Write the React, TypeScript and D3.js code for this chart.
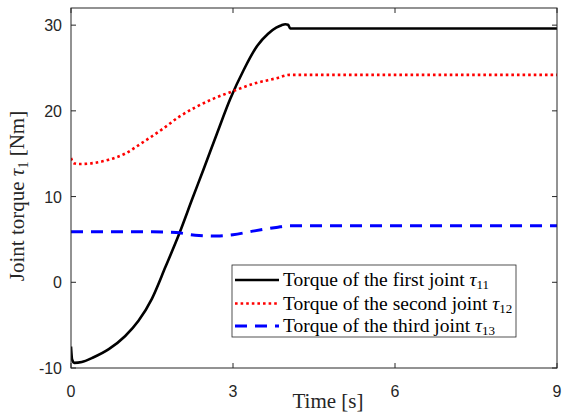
import React from "react";
import * as d3 from "d3";

const W = 562;
const H = 418;

const tBlack = [0, 0.02, 0.06, 0.2, 0.4, 0.7, 1.0, 1.25, 1.5, 1.75, 2.0, 2.25, 2.45, 2.7, 2.95, 3.2, 3.45, 3.65, 3.8, 3.9, 3.97, 4.02, 4.06, 9];
const vBlack = [-7.5, -9.0, -9.4, -9.3, -8.8, -7.8, -6.3, -4.5, -1.9, 1.8, 5.6, 9.8, 13.1, 17.3, 21.4, 24.8, 27.6, 29.0, 29.7, 30.0, 30.1, 30.05, 29.6, 29.6];

const tRed = [0, 0.05, 0.15, 0.4, 0.7, 1.0, 1.3, 1.7, 2.0, 2.3, 2.63, 3.0, 3.4, 3.8, 4.05, 9];
const vRed = [14.5, 13.9, 13.8, 13.9, 14.3, 15.0, 16.2, 17.9, 19.3, 20.4, 21.4, 22.3, 23.2, 23.8, 24.2, 24.2];

const tBlue = [0, 1.5, 1.95, 2.3, 2.7, 3.0, 3.4, 3.8, 4.05, 9];
const vBlue = [5.9, 5.9, 5.8, 5.5, 5.4, 5.55, 6.0, 6.4, 6.6, 6.6];

const xTicks = [0, 3, 6, 9];
const yTicks = [-10, 0, 10, 20, 30];

const legendLabels = ["Torque of the first joint ", "Torque of the second joint ", "Torque of the third joint "];
const legendSubs = ["11", "12", "13"];

export default function App() {
  const left = 71, right = 557, top = 8, bottom = 368;
  const x = d3.scaleLinear().domain([0, 9]).range([left, right]);
  const y = d3.scaleLinear().domain([-10, 32]).range([bottom, top]);
  const line = d3
    .line<[number, number]>()
    .x((d) => x(d[0]))
    .y((d) => y(d[1]))
    .curve(d3.curveMonotoneX);
  const mk = (t: number[], v: number[]) => t.map((ti, i) => [ti, v[i]] as [number, number]);

  const series = [
    { d: line(mk(tBlack, vBlack)), stroke: "#000000", w: 2.6, dash: undefined as string | undefined },
    { d: line(mk(tRed, vRed)), stroke: "#ff0000", w: 2.6, dash: "2.6 3" },
    { d: line(mk(tBlue, vBlue)), stroke: "#0000ff", w: 3, dash: "12 8" },
  ];

  const axisColor = "#262626";
  const tickLen = 5;
  const serif = "'Liberation Serif', 'Times New Roman', serif";
  const sans = "'Liberation Sans', Arial, sans-serif";

  const lgX = 232, lgY = 265, lgW = 284, lgH = 72;
  const rowY = [280, 303.5, 326];

  return (
    <svg width={W} height={H} style={{ position: "absolute", left: 0, top: 0, background: "#fff" }}>
      <rect x={0} y={0} width={W} height={H} fill="#fff" />
      <defs>
        <clipPath id="clip">
          <rect x={left} y={top} width={right - left} height={bottom - top} />
        </clipPath>
      </defs>
      <g clipPath="url(#clip)">
        {series.map((s, i) => (
          <path
            key={i}
            d={s.d || ""}
            fill="none"
            stroke={s.stroke}
            strokeWidth={s.w}
            strokeDasharray={s.dash}
            strokeLinejoin="round"
          />
        ))}
      </g>
      <rect x={left} y={top} width={right - left} height={bottom - top} fill="none" stroke={axisColor} strokeWidth={1} />
      {xTicks.map((t) => (
        <g key={"x" + t}>
          <line x1={x(t)} x2={x(t)} y1={bottom} y2={bottom - tickLen} stroke={axisColor} />
          <line x1={x(t)} x2={x(t)} y1={top} y2={top + tickLen} stroke={axisColor} />
          <text x={x(t)} y={397} textAnchor="middle" fontFamily={sans} fontSize={16} fill={axisColor}>
            {t}
          </text>
        </g>
      ))}
      {yTicks.map((t) => (
        <g key={"y" + t}>
          <line x1={left} x2={left + tickLen} y1={y(t)} y2={y(t)} stroke={axisColor} />
          <line x1={right} x2={right - tickLen} y1={y(t)} y2={y(t)} stroke={axisColor} />
          <text x={62} y={y(t) + 6} textAnchor="end" fontFamily={sans} fontSize={16} fill={axisColor}>
            {t}
          </text>
        </g>
      ))}
      <text x={328} y={408} textAnchor="middle" fontFamily={serif} fontSize={21} fill={axisColor}>
        Time [s]
      </text>
      <text
        transform={`translate(24,196) rotate(-90)`}
        textAnchor="middle"
        fontFamily={serif}
        fontSize={21}
        fill={axisColor}
      >
        Joint torque <tspan fontStyle="italic">τ</tspan>
        <tspan fontSize={14} dy={4}>1</tspan>
        <tspan dy={-4}> [Nm]</tspan>
      </text>
      <rect x={lgX} y={lgY} width={lgW} height={lgH} fill="#fff" stroke={axisColor} strokeWidth={0.8} />
      {series.map((s, i) => (
        <g key={"lg" + i}>
          <line
            x1={235}
            x2={279}
            y1={rowY[i]}
            y2={rowY[i]}
            stroke={s.stroke}
            strokeWidth={s.w}
            strokeDasharray={s.dash}
          />
          <text x={283} y={rowY[i] + 6} fontFamily={serif} fontSize={19.5} fill="#000">
            {legendLabels[i]}
            <tspan fontStyle="italic">τ</tspan>
            <tspan fontSize={13} dy={3}>{legendSubs[i]}</tspan>
          </text>
        </g>
      ))}
    </svg>
  );
}
